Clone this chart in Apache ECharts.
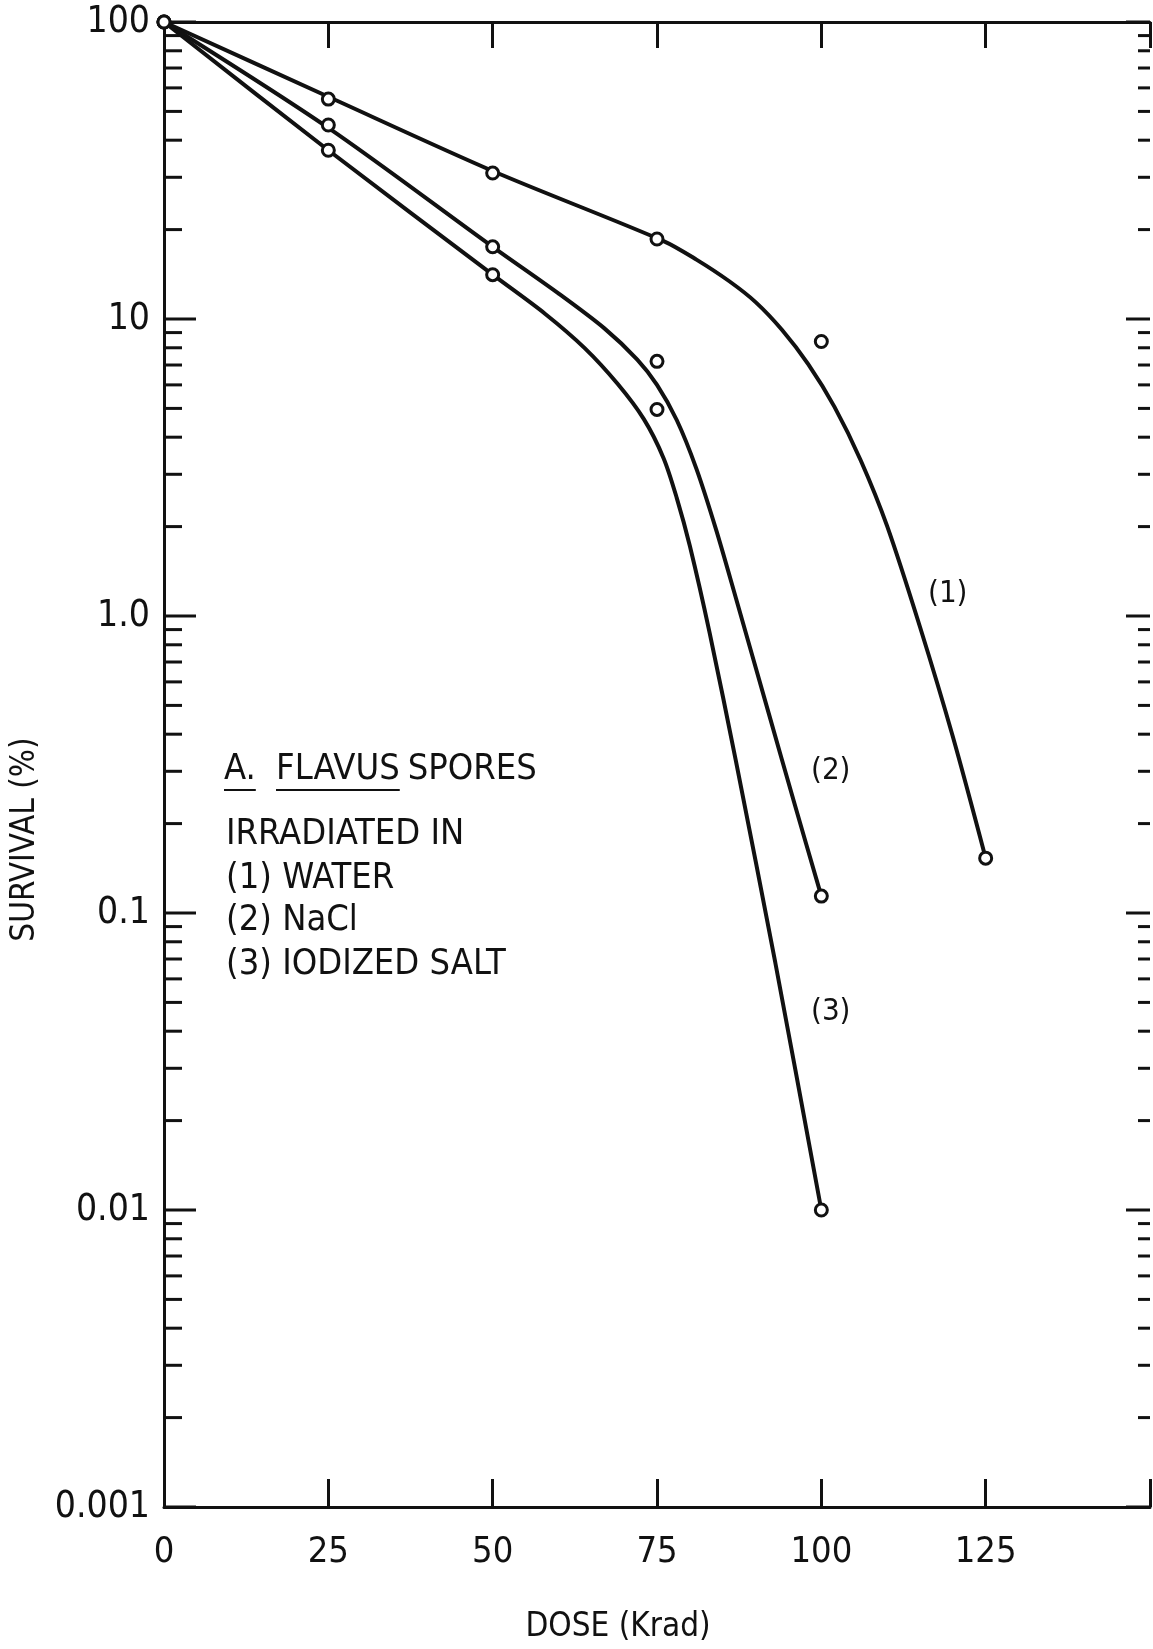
<!DOCTYPE html>
<html>
<head>
<meta charset="utf-8">
<script src="https://cdn.jsdelivr.net/npm/echarts@6/dist/echarts.min.js"></script>
<style>
html, body { margin: 0; padding: 0; background: #fff; }
#main { width: 1153px; height: 1649px; }
</style>
</head>
<body>
<div id="main"></div>
<script>
// x axis (dose, Krad)
const doseMin = 0
const doseMax = 150
const doseStep = 25
const doseTickLabels = ['0', '25', '50', '75', '100', '125', '']

// y axis (survival %) decades and their printed labels
const survivalDecades = [0.001, 0.01, 0.1, 1, 10, 100]
const survivalTickLabels = ['0.001', '0.01', '0.1', '1.0', '10', '100']
const minorMultipliers = [2, 3, 4, 5, 6, 7, 8, 9]

// measured points
const waterDose = [0, 25, 50, 75, 100, 125]
const waterSurv = [100, 55, 31, 18.6, 8.4, 0.153]
const naclDose = [0, 25, 50, 75, 100]
const naclSurv = [100, 45, 17.5, 7.2, 0.114]
const iodDose = [0, 25, 50, 75, 100]
const iodSurv = [100, 37, 14.1, 4.96, 0.01]

// hand drawn curves
const waterCurveDose = [0, 25, 50, 76, 81, 86, 90, 94, 98, 102, 106, 110, 115, 120, 125]
const waterCurveSurv = [100, 56, 31.5, 18.3, 15.85, 13.4, 11.4, 9.2, 7.05, 5.06, 3.34, 2.01, 0.92, 0.393, 0.153]
const naclCurveDose = [0, 25, 50, 60, 67, 72, 75, 78, 81, 84, 87, 92, 96, 100]
const naclCurveSurv = [100, 44, 17.5, 12.2, 9.3, 7.3, 6.0, 4.57, 3.13, 1.95, 1.15, 0.47, 0.23, 0.114]
const iodCurveDose = [0, 25, 50, 58, 64, 69, 73, 76, 78, 80, 83, 87, 93, 100]
const iodCurveSurv = [100, 37, 14.1, 10.4, 7.98, 6.05, 4.6, 3.4, 2.5, 1.72, 0.879, 0.325, 0.068, 0.01]

const ink = '#111'
const font = "'DejaVu Sans Condensed', 'Liberation Sans Narrow', sans-serif"

function pairs(xs, ys) {
  return xs.map((x, i) => [x, ys[i]])
}

// y ticks on both frame sides: [x, value, isDecade]
const yTicks = survivalDecades.map(d => [doseMin, d, 1])
survivalDecades.slice(0, -1).forEach(d => {
  minorMultipliers.forEach(m => yTicks.push([doseMin, +(d * m).toPrecision(3), 0]))
})

function pointSeries(name, xs, ys) {
  return {
    name: name,
    type: 'scatter',
    data: pairs(xs, ys),
    symbol: 'circle',
    symbolSize: 12,
    itemStyle: { color: '#fff', borderColor: ink, borderWidth: 3, opacity: 1 },
    z: 5
  }
}

function curveSeries(name, xs, ys) {
  return {
    name: name,
    type: 'line',
    data: pairs(xs, ys),
    smooth: 0.3,
    showSymbol: false,
    lineStyle: { color: ink, width: 4 },
    z: 3
  }
}

// measure text so the underlines fit the words
const ctx = document.createElement('canvas').getContext('2d')
function textWidth(s, size) {
  ctx.font = size + 'px ' + font
  return ctx.measureText(s).width
}

const noteSize = 36
const noteFont = noteSize + 'px ' + font
const wA = textWidth('A.', noteSize)
const wFlavus = textWidth('FLAVUS', noteSize)
const xFlavus = 276
const xSpores = xFlavus + wFlavus + 8

const myChart = echarts.init(document.getElementById('main'))
const option = {
  backgroundColor: '#fff',
  animation: false,
  grid: { left: 164, right: 3, top: 22, bottom: 136 },
  xAxis: [
    {
      type: 'value',
      min: doseMin,
      max: doseMax,
      interval: doseStep,
      position: 'bottom',
      name: 'DOSE (Krad)',
      nameLocation: 'middle',
      nameGap: 104,
      nameTextStyle: { color: ink, fontSize: 33, fontFamily: font, padding: [0, 78, 0, 0] },
      axisLine: { show: true, lineStyle: { color: ink, width: 3 } },
      axisTick: { show: true, inside: true, length: 28, lineStyle: { color: ink, width: 3 } },
      axisLabel: {
        color: ink,
        fontSize: 36,
        fontFamily: font,
        margin: 28,
        formatter: v => doseTickLabels[Math.round(v / doseStep)]
      },
      splitLine: { show: false }
    },
    {
      type: 'value',
      min: doseMin,
      max: doseMax,
      interval: doseStep,
      position: 'top',
      axisLine: { show: true, lineStyle: { color: ink, width: 3 } },
      axisTick: { show: true, inside: true, length: 26, lineStyle: { color: ink, width: 3 } },
      axisLabel: { show: false },
      splitLine: { show: false }
    }
  ],
  yAxis: [
    {
      type: 'log',
      logBase: 10,
      min: 0.001,
      max: 100,
      position: 'left',
      name: 'SURVIVAL (%)',
      nameLocation: 'middle',
      nameGap: 122,
      nameRotate: 90,
      nameTextStyle: { color: ink, fontSize: 33, fontFamily: font, padding: [0, 150, 0, 0] },
      axisLine: { show: true, lineStyle: { color: ink, width: 3 } },
      axisTick: { show: false },
      minorTick: { show: false },
      axisLabel: {
        color: ink,
        fontSize: 37,
        fontFamily: font,
        margin: 14,
        formatter: v => {
          const i = survivalDecades.findIndex(d => Math.abs(d - v) / d < 1e-6)
          return i >= 0 ? survivalTickLabels[i] : ''
        }
      },
      splitLine: { show: false }
    },
    {
      type: 'log',
      logBase: 10,
      min: 0.001,
      max: 100,
      position: 'right',
      axisLine: { show: true, lineStyle: { color: ink, width: 3 } },
      axisTick: { show: false },
      axisLabel: { show: false },
      splitLine: { show: false }
    }
  ],
  series: [
    {
      name: 'y ticks',
      type: 'custom',
      data: yTicks,
      silent: true,
      clip: false,
      renderItem: (params, api) => {
        const v = api.value(1)
        const major = api.value(2) === 1
        const pl = api.coord([doseMin, v])
        const pr = api.coord([doseMax, v])
        const lenL = major ? 32 : 18
        const lenR = major ? 24 : 12
        return {
          type: 'group',
          children: [
            { type: 'line', shape: { x1: pl[0], y1: pl[1], x2: pl[0] + lenL, y2: pl[1] }, style: { stroke: ink, lineWidth: 3 } },
            { type: 'line', shape: { x1: pr[0], y1: pr[1], x2: pr[0] - lenR, y2: pr[1] }, style: { stroke: ink, lineWidth: 3 } }
          ]
        }
      }
    },
    curveSeries('(1) WATER curve', waterCurveDose, waterCurveSurv),
    curveSeries('(2) NaCl curve', naclCurveDose, naclCurveSurv),
    curveSeries('(3) IODIZED SALT curve', iodCurveDose, iodCurveSurv),
    pointSeries('(1) WATER', waterDose, waterSurv),
    pointSeries('(2) NaCl', naclDose, naclSurv),
    pointSeries('(3) IODIZED SALT', iodDose, iodSurv)
  ],
  graphic: [
    { type: 'text', left: 224, top: 752, style: { text: 'A.', font: noteFont, fill: ink } },
    { type: 'line', shape: { x1: 224, y1: 790, x2: 224 + wA, y2: 790 }, style: { stroke: ink, lineWidth: 2 } },
    { type: 'text', left: xFlavus, top: 752, style: { text: 'FLAVUS', font: noteFont, fill: ink } },
    { type: 'line', shape: { x1: xFlavus, y1: 790, x2: xFlavus + wFlavus, y2: 790 }, style: { stroke: ink, lineWidth: 2 } },
    { type: 'text', left: xSpores, top: 752, style: { text: 'SPORES', font: noteFont, fill: ink } },
    { type: 'text', left: 226, top: 817, style: { text: 'IRRADIATED IN', font: noteFont, fill: ink } },
    { type: 'text', left: 226, top: 861, style: { text: '(1) WATER', font: noteFont, fill: ink } },
    { type: 'text', left: 226, top: 903, style: { text: '(2) NaCl', font: noteFont, fill: ink } },
    { type: 'text', left: 226, top: 947, style: { text: '(3) IODIZED SALT', font: noteFont, fill: ink } },
    { type: 'text', left: 928, top: 578, style: { text: '(1)', font: '31px ' + font, fill: ink } },
    { type: 'text', left: 811, top: 755, style: { text: '(2)', font: '31px ' + font, fill: ink } },
    { type: 'text', left: 811, top: 996, style: { text: '(3)', font: '31px ' + font, fill: ink } }
  ]
}
myChart.setOption(option)
</script>
</body>
</html>
